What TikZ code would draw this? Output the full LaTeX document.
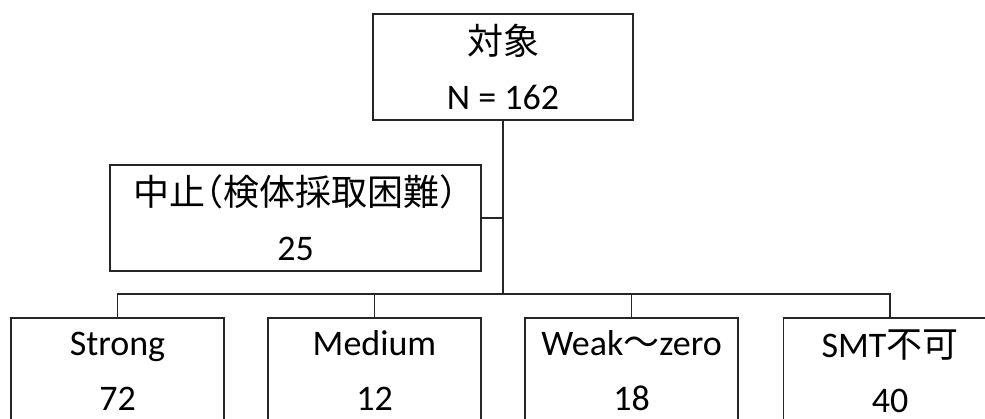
\documentclass[tikz,border=0pt]{standalone}
\usepackage{fontspec}
\setmainfont{Carlito}
\newfontfamily\cjk{Noto Sans CJK JP}
\newfontfamily\cjkhalf[RawFeature=+halt]{Noto Sans CJK JP}
\tikzset{
  box/.style={draw=black!85, line width=1.1pt, fill=white, inner sep=0pt, align=center,
    font=\fontsize{36}{55}\selectfont},
  conn/.style={draw=black!85, line width=1.1pt}
}
\begin{document}
\begin{tikzpicture}[x=1pt,y=-1pt]
\useasboundingbox (0,0) rectangle (985,419);
\clip (0,0) rectangle (985,419);
\node[box, minimum width=260pt, minimum height=106pt] (top) at (503,67) {{\cjk 対象}\\N = 162};
\node[box, minimum width=371pt, minimum height=106pt] (mid) at (295.5,218) {{\cjk 中止{\cjkhalf （}検体採取困難{\cjkhalf ）}}\\25};
\node[box, minimum width=213pt, minimum height=106pt] (b1) at (117.5,371) {Strong\\72};
\node[box, minimum width=213pt, minimum height=106pt] (b2) at (374.5,371) {Medium\\12};
\node[box, minimum width=213pt, minimum height=106pt] (b3) at (631.5,371) {Weak{\cjk ～}zero\\18};
\node[box, minimum width=213pt, minimum height=106pt] (b4) at (890,371) {SMT{\cjk 不可}\\40};
\coordinate (bus) at (503,294);
\draw[conn] (top.south) -- (bus);
\draw[conn] (mid.east) -- (mid.east -| bus);
\draw[conn] (b1.north) -- (b1.north |- bus) -- (b4.north |- bus) -- (b4.north);
\draw[conn] (b2.north) -- (b2.north |- bus);
\draw[conn] (b3.north) -- (b3.north |- bus);
\end{tikzpicture}
\end{document}
